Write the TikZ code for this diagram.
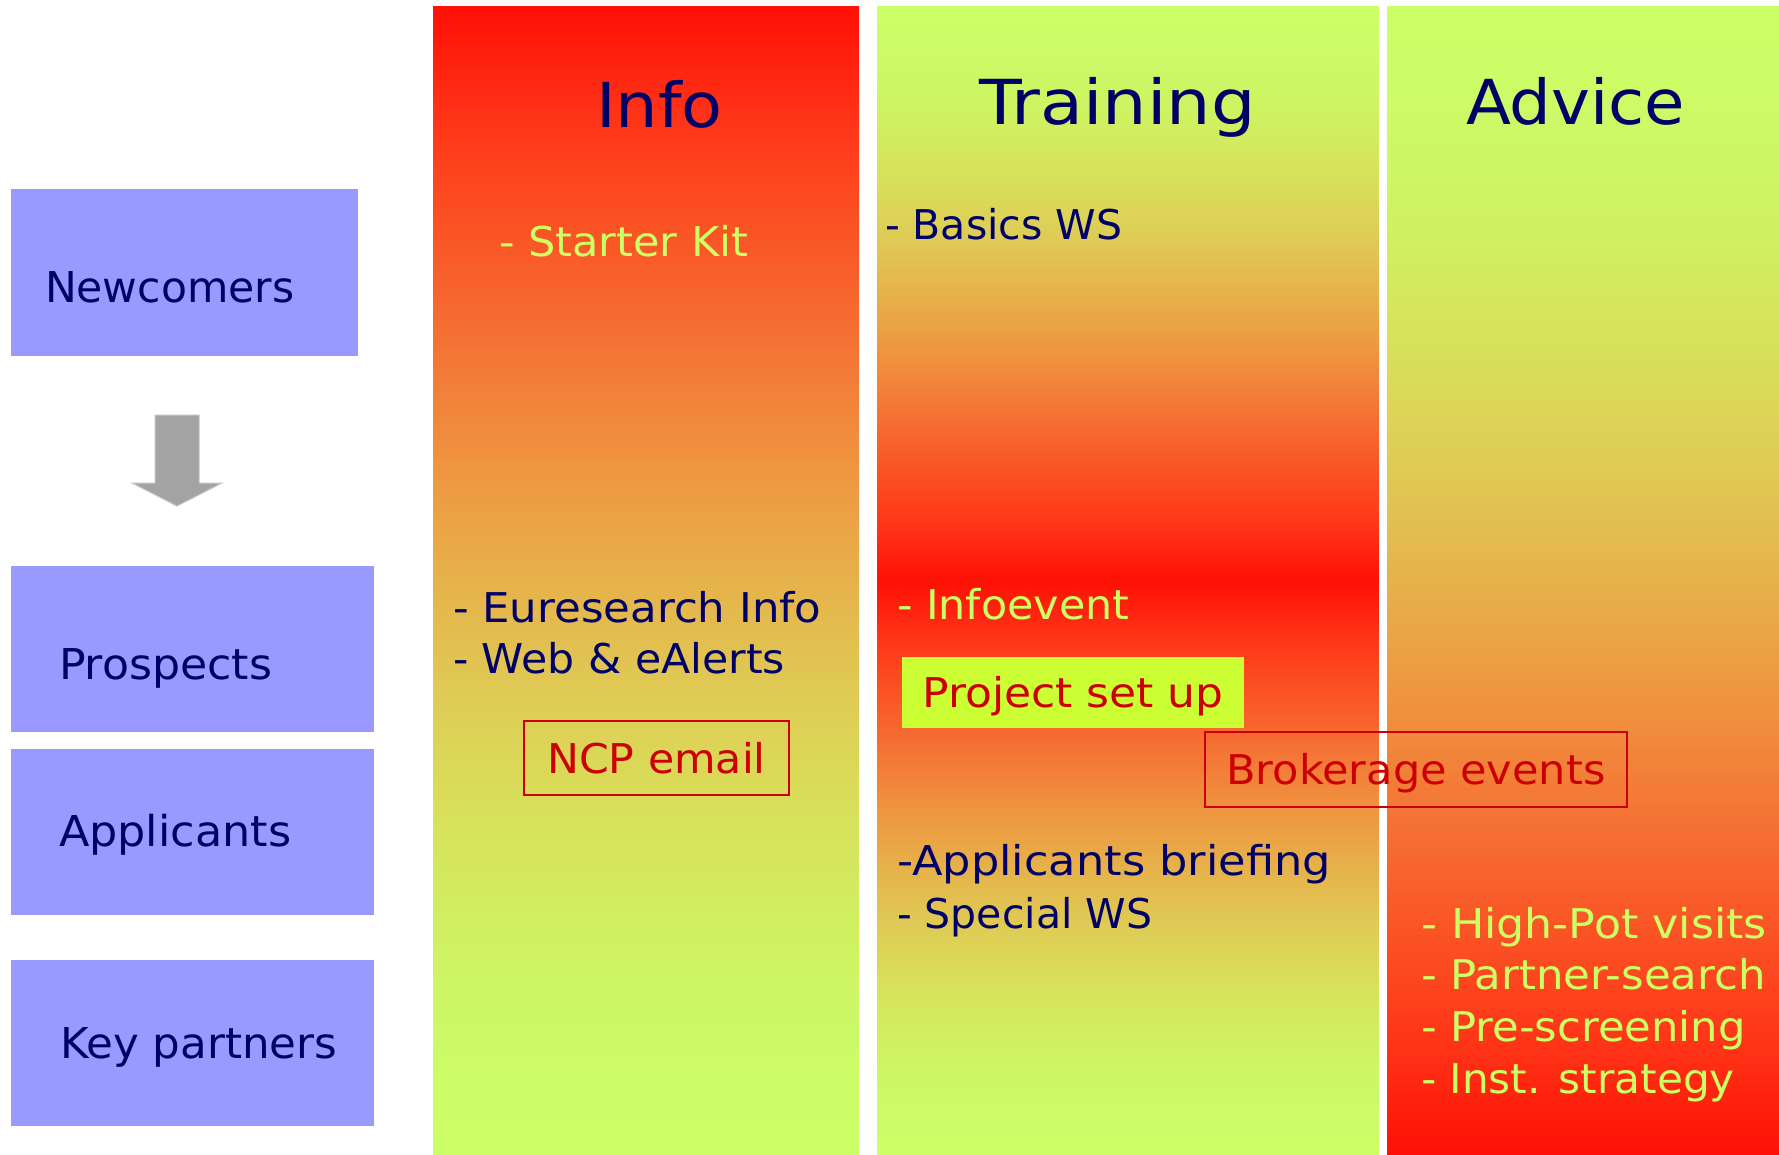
\documentclass[tikz,border=0pt]{standalone}
\usepackage{graphicx}
\usepackage{fontspec}
\setmainfont{DejaVu Sans}
\newcommand{\wx}[2]{\scalebox{#1}[1]{#2}}
\definecolor{navy}{HTML}{000066}
\definecolor{ltxt}{HTML}{CCFF66}
\definecolor{rtxt}{HTML}{CC0000}
\definecolor{lav}{HTML}{9999FF}
\definecolor{psu}{HTML}{CCFF33}
\definecolor{arrg}{HTML}{A3A3A3}
\definecolor{arrl}{HTML}{C4C4C4}
\definecolor{s0}{HTML}{FF1005}
\definecolor{s1}{HTML}{FF3518}
\definecolor{s2}{HTML}{FA5525}
\definecolor{s3}{HTML}{F47535}
\definecolor{s4}{HTML}{EF9540}
\definecolor{s5}{HTML}{E6B24A}
\definecolor{s6}{HTML}{DFCB55}
\definecolor{s7}{HTML}{D8E05A}
\definecolor{s8}{HTML}{D0F060}
\definecolor{s9}{HTML}{CCFA66}
\definecolor{s10}{HTML}{CCFF66}
\pgfdeclareverticalshading{infoshade}{100bp}{color(0bp)=(s10); color(25bp)=(s10); color(30bp)=(s9); color(35bp)=(s8); color(40bp)=(s7); color(45bp)=(s6); color(50bp)=(s5); color(55bp)=(s4); color(60bp)=(s3); color(65bp)=(s2); color(70bp)=(s1); color(75bp)=(s0); color(100bp)=(s0)}
\pgfdeclareverticalshading{advshade}{100bp}{color(0bp)=(s0); color(25bp)=(s0); color(30bp)=(s1); color(35bp)=(s2); color(40bp)=(s3); color(45bp)=(s4); color(50bp)=(s5); color(55bp)=(s6); color(60bp)=(s7); color(65bp)=(s8); color(70bp)=(s9); color(75bp)=(s10); color(100bp)=(s10)}
\pgfdeclareverticalshading{trainshade}{100bp}{color(0bp)=(s10); color(25bp)=(s10); color(27.5bp)=(s9); color(30bp)=(s8); color(32.5bp)=(s7); color(35bp)=(s6); color(37.5bp)=(s5); color(40bp)=(s4); color(42.5bp)=(s3); color(45bp)=(s2); color(47.5bp)=(s1); color(50bp)=(s0); color(52.5bp)=(s1); color(55bp)=(s2); color(57.5bp)=(s3); color(60bp)=(s4); color(62.5bp)=(s5); color(65bp)=(s6); color(67.5bp)=(s7); color(70bp)=(s8); color(72.5bp)=(s9); color(75bp)=(s10); color(100bp)=(s10)}
\begin{document}
\begin{tikzpicture}[x=1pt,y=-1pt,
  lbox/.style={fill=lav, draw=none, inner sep=0pt, outer sep=0pt, anchor=north west},
  colbox/.style={draw=none, inner sep=0pt, outer sep=0pt, anchor=north west, minimum height=1148pt},
  lbl/.style={inner sep=0pt, outer sep=0pt, anchor=base west, text=navy, font=\fontsize{42.5}{50}\selectfont},
  title/.style={inner sep=0pt, outer sep=0pt, anchor=base west, text=navy, font=\fontsize{62}{70}\selectfont},
  item/.style={inner sep=0pt, outer sep=0pt, anchor=base west, font=\fontsize{41}{49}\selectfont},
  tagbox/.style={inner sep=0pt, outer sep=0pt, text=rtxt, text height=30pt, text depth=0pt, font=\fontsize{41}{49}\selectfont},
  framed/.style={tagbox, draw=rtxt, line width=2.5pt}
]
\useasboundingbox (0,0) rectangle (1779,1155);
\fill[white] (0,0) rectangle (1779,1155);

% left category boxes
\node[lbox, minimum width=347pt, minimum height=167pt] (newc) at (11,189) {};
\node[lbox, minimum width=363pt, minimum height=166pt] (pros) at (11,566) {};
\node[lbox, minimum width=363pt, minimum height=166pt] (appl) at (11,749) {};
\node[lbox, minimum width=363pt, minimum height=166pt] (keyp) at (11,960) {};
\node[lbl] (newct) at (45,303) {Newcomers};
\node[lbl] (prost) at (59,679) {\wx{1.04}{Prospects}};
\node[lbl] (applt) at (59,846) {\wx{1.047}{Applicants}};
\node[lbl] (keypt) at (60,1058) {\wx{1.025}{Key partners}};

% block arrow
\filldraw[fill=arrg, draw=arrl, line width=1pt]
  (155,415) -- (199,415) -- (199,483) -- (222,483) -- (177,506) -- (132,483) -- (155,483) -- cycle;

% columns
\node[colbox, shade, shading=infoshade, minimum width=426pt] (info) at (433,7) {};
\node[colbox, shade, shading=trainshade, minimum width=502pt] (train) at (877,7) {};
\node[colbox, shade, shading=advshade, minimum width=392pt] (adv) at (1387,7) {};

% titles
\node[title] (tinfo) at (596,128) {\wx{1.08}{Info}};
\node[title] (ttrain) at (979,125) {\wx{1.13}{Training}};
\node[title] (tadv) at (1466,125) {\wx{1.06}{Advice}};

% Info column
\node[item, text=ltxt] (starter) at (499,257) {\wx{1.05}{- Starter Kit}};
\node[item, text=navy] (eures) at (453,622) {\wx{1.06}{- Euresearch Info}};
\node[item, text=navy] (web) at (453,673) {\wx{1.04}{- Web \& eAlerts}};
\node[framed, minimum width=265pt, minimum height=74pt] (ncp) at (656.5,758) {\wx{1.04}{NCP email}};

% Training column
\node[item, text=navy] (basics) at (885,240) {- Basics WS};
\node[item, text=ltxt] (infoev) at (897,619) {\wx{1.046}{- Infoevent}};
\node[tagbox, fill=psu, minimum width=342pt, minimum height=71pt] (projset) at (1073,692.5) {\wx{1.073}{Project set up}};
\node[framed, minimum width=422pt, minimum height=75pt] (brok) at (1416,769.5) {\wx{1.05}{Brokerage events}};
\node[item, text=navy] (appbr) at (897,875) {\wx{1.09}{-Applicants briefing}};
\node[item, text=navy] (special) at (897,928) {- Special WS};

% Advice column
\node[item, text=ltxt] (adv1) at (1421,938) {\wx{1.08}{- High-Pot visits}};
\node[item, text=ltxt] (adv2) at (1421,989) {\wx{1.06}{- Partner-search}};
\node[item, text=ltxt] (adv3) at (1421,1041) {\wx{1.056}{- Pre-screening}};
\node[item, text=ltxt] (adv4) at (1421,1093) {\wx{1.03}{- Inst. strategy}};
\end{tikzpicture}
\end{document}
